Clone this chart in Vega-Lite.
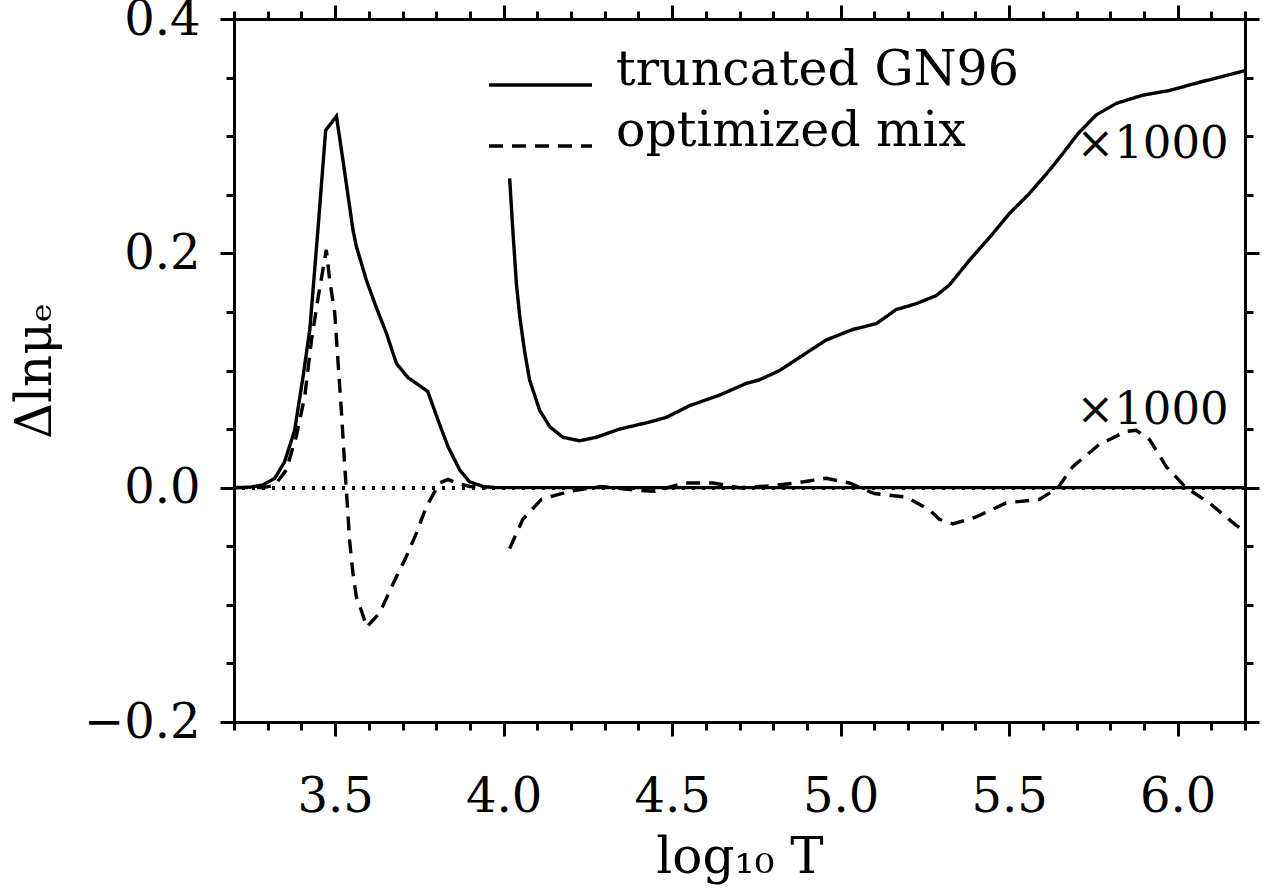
{
  "$schema": "https://vega.github.io/schema/vega-lite/v6.json",
  "width": 1011,
  "height": 703,
  "autosize": {"type": "none"},
  "padding": {"left": 234, "top": 19, "right": 22, "bottom": 170},
  "background": "white",
  "config": {
    "view": {"stroke": null},
    "axis": {
      "grid": false,
      "domainColor": "black",
      "domainWidth": 3,
      "domainCap": "square",
      "tickColor": "black",
      "tickWidth": 3,
      "labelFont": "DejaVu Serif",
      "labelFontSize": 48,
      "labelColor": "black",
      "labelFlush": false,
      "labelOverlap": false,
      "titleFont": "DejaVu Serif",
      "titleFontSize": 48,
      "titleColor": "black",
      "titleFontWeight": "normal"
    }
  },
  "datasets": {
    "curves": [
      {"T": 3.2, "v": 0, "series": "truncated GN96", "part": "a"},
      {"T": 3.25, "v": 0.0005, "series": "truncated GN96", "part": "a"},
      {"T": 3.286, "v": 0.0023, "series": "truncated GN96", "part": "a"},
      {"T": 3.321, "v": 0.008, "series": "truncated GN96", "part": "a"},
      {"T": 3.35, "v": 0.022, "series": "truncated GN96", "part": "a"},
      {"T": 3.38, "v": 0.049, "series": "truncated GN96", "part": "a"},
      {"T": 3.405, "v": 0.095, "series": "truncated GN96", "part": "a"},
      {"T": 3.425, "v": 0.135, "series": "truncated GN96", "part": "a"},
      {"T": 3.449, "v": 0.22, "series": "truncated GN96", "part": "a"},
      {"T": 3.472, "v": 0.305, "series": "truncated GN96", "part": "a"},
      {"T": 3.504, "v": 0.317, "series": "truncated GN96", "part": "a"},
      {"T": 3.523, "v": 0.28, "series": "truncated GN96", "part": "a"},
      {"T": 3.553, "v": 0.22, "series": "truncated GN96", "part": "a"},
      {"T": 3.563, "v": 0.206, "series": "truncated GN96", "part": "a"},
      {"T": 3.593, "v": 0.177, "series": "truncated GN96", "part": "a"},
      {"T": 3.622, "v": 0.154, "series": "truncated GN96", "part": "a"},
      {"T": 3.652, "v": 0.132, "series": "truncated GN96", "part": "a"},
      {"T": 3.682, "v": 0.106, "series": "truncated GN96", "part": "a"},
      {"T": 3.716, "v": 0.094, "series": "truncated GN96", "part": "a"},
      {"T": 3.746, "v": 0.088, "series": "truncated GN96", "part": "a"},
      {"T": 3.775, "v": 0.082, "series": "truncated GN96", "part": "a"},
      {"T": 3.805, "v": 0.058, "series": "truncated GN96", "part": "a"},
      {"T": 3.835, "v": 0.035, "series": "truncated GN96", "part": "a"},
      {"T": 3.87, "v": 0.015, "series": "truncated GN96", "part": "a"},
      {"T": 3.899, "v": 0.005, "series": "truncated GN96", "part": "a"},
      {"T": 3.939, "v": 0.001, "series": "truncated GN96", "part": "a"},
      {"T": 3.978, "v": 0, "series": "truncated GN96", "part": "a"},
      {"T": 6.2, "v": 0, "series": "truncated GN96", "part": "a"},

      {"T": 3.2, "v": 0, "series": "optimized mix", "part": "a"},
      {"T": 3.286, "v": 0, "series": "optimized mix", "part": "a"},
      {"T": 3.321, "v": 0.002, "series": "optimized mix", "part": "a"},
      {"T": 3.355, "v": 0.015, "series": "optimized mix", "part": "a"},
      {"T": 3.385, "v": 0.044, "series": "optimized mix", "part": "a"},
      {"T": 3.41, "v": 0.078, "series": "optimized mix", "part": "a"},
      {"T": 3.43, "v": 0.126, "series": "optimized mix", "part": "a"},
      {"T": 3.45, "v": 0.163, "series": "optimized mix", "part": "a"},
      {"T": 3.474, "v": 0.203, "series": "optimized mix", "part": "a"},
      {"T": 3.484, "v": 0.177, "series": "optimized mix", "part": "a"},
      {"T": 3.499, "v": 0.149, "series": "optimized mix", "part": "a"},
      {"T": 3.509, "v": 0.106, "series": "optimized mix", "part": "a"},
      {"T": 3.519, "v": 0.064, "series": "optimized mix", "part": "a"},
      {"T": 3.528, "v": 0.021, "series": "optimized mix", "part": "a"},
      {"T": 3.538, "v": -0.022, "series": "optimized mix", "part": "a"},
      {"T": 3.543, "v": -0.045, "series": "optimized mix", "part": "a"},
      {"T": 3.553, "v": -0.073, "series": "optimized mix", "part": "a"},
      {"T": 3.563, "v": -0.093, "series": "optimized mix", "part": "a"},
      {"T": 3.578, "v": -0.105, "series": "optimized mix", "part": "a"},
      {"T": 3.594, "v": -0.119, "series": "optimized mix", "part": "a"},
      {"T": 3.632, "v": -0.107, "series": "optimized mix", "part": "a"},
      {"T": 3.677, "v": -0.079, "series": "optimized mix", "part": "a"},
      {"T": 3.711, "v": -0.059, "series": "optimized mix", "part": "a"},
      {"T": 3.741, "v": -0.039, "series": "optimized mix", "part": "a"},
      {"T": 3.771, "v": -0.016, "series": "optimized mix", "part": "a"},
      {"T": 3.81, "v": 0.004, "series": "optimized mix", "part": "a"},
      {"T": 3.835, "v": 0.007, "series": "optimized mix", "part": "a"},
      {"T": 3.86, "v": 0.004, "series": "optimized mix", "part": "a"},
      {"T": 3.9, "v": 0.001, "series": "optimized mix", "part": "a"},
      {"T": 3.95, "v": 0, "series": "optimized mix", "part": "a"},

      {"T": 4.018, "v": 0.264, "series": "truncated GN96", "part": "b"},
      {"T": 4.028, "v": 0.217, "series": "truncated GN96", "part": "b"},
      {"T": 4.038, "v": 0.174, "series": "truncated GN96", "part": "b"},
      {"T": 4.048, "v": 0.146, "series": "truncated GN96", "part": "b"},
      {"T": 4.062, "v": 0.117, "series": "truncated GN96", "part": "b"},
      {"T": 4.077, "v": 0.092, "series": "truncated GN96", "part": "b"},
      {"T": 4.107, "v": 0.066, "series": "truncated GN96", "part": "b"},
      {"T": 4.137, "v": 0.052, "series": "truncated GN96", "part": "b"},
      {"T": 4.176, "v": 0.043, "series": "truncated GN96", "part": "b"},
      {"T": 4.226, "v": 0.04, "series": "truncated GN96", "part": "b"},
      {"T": 4.275, "v": 0.043, "series": "truncated GN96", "part": "b"},
      {"T": 4.344, "v": 0.05, "series": "truncated GN96", "part": "b"},
      {"T": 4.433, "v": 0.056, "series": "truncated GN96", "part": "b"},
      {"T": 4.483, "v": 0.06, "series": "truncated GN96", "part": "b"},
      {"T": 4.552, "v": 0.07, "series": "truncated GN96", "part": "b"},
      {"T": 4.641, "v": 0.079, "series": "truncated GN96", "part": "b"},
      {"T": 4.72, "v": 0.089, "series": "truncated GN96", "part": "b"},
      {"T": 4.759, "v": 0.092, "series": "truncated GN96", "part": "b"},
      {"T": 4.819, "v": 0.1, "series": "truncated GN96", "part": "b"},
      {"T": 4.888, "v": 0.113, "series": "truncated GN96", "part": "b"},
      {"T": 4.957, "v": 0.126, "series": "truncated GN96", "part": "b"},
      {"T": 5.036, "v": 0.135, "series": "truncated GN96", "part": "b"},
      {"T": 5.106, "v": 0.14, "series": "truncated GN96", "part": "b"},
      {"T": 5.165, "v": 0.152, "series": "truncated GN96", "part": "b"},
      {"T": 5.224, "v": 0.157, "series": "truncated GN96", "part": "b"},
      {"T": 5.284, "v": 0.164, "series": "truncated GN96", "part": "b"},
      {"T": 5.323, "v": 0.173, "series": "truncated GN96", "part": "b"},
      {"T": 5.382, "v": 0.194, "series": "truncated GN96", "part": "b"},
      {"T": 5.452, "v": 0.217, "series": "truncated GN96", "part": "b"},
      {"T": 5.501, "v": 0.234, "series": "truncated GN96", "part": "b"},
      {"T": 5.56, "v": 0.251, "series": "truncated GN96", "part": "b"},
      {"T": 5.62, "v": 0.271, "series": "truncated GN96", "part": "b"},
      {"T": 5.659, "v": 0.285, "series": "truncated GN96", "part": "b"},
      {"T": 5.704, "v": 0.302, "series": "truncated GN96", "part": "b"},
      {"T": 5.758, "v": 0.318, "series": "truncated GN96", "part": "b"},
      {"T": 5.818, "v": 0.328, "series": "truncated GN96", "part": "b"},
      {"T": 5.897, "v": 0.335, "series": "truncated GN96", "part": "b"},
      {"T": 5.976, "v": 0.339, "series": "truncated GN96", "part": "b"},
      {"T": 6.065, "v": 0.346, "series": "truncated GN96", "part": "b"},
      {"T": 6.2, "v": 0.356, "series": "truncated GN96", "part": "b"},

      {"T": 4.018, "v": -0.052, "series": "optimized mix", "part": "b"},
      {"T": 4.057, "v": -0.027, "series": "optimized mix", "part": "b"},
      {"T": 4.112, "v": -0.01, "series": "optimized mix", "part": "b"},
      {"T": 4.196, "v": -0.003, "series": "optimized mix", "part": "b"},
      {"T": 4.29, "v": 0.001, "series": "optimized mix", "part": "b"},
      {"T": 4.384, "v": -0.002, "series": "optimized mix", "part": "b"},
      {"T": 4.45, "v": -0.003, "series": "optimized mix", "part": "b"},
      {"T": 4.537, "v": 0.004, "series": "optimized mix", "part": "b"},
      {"T": 4.621, "v": 0.004, "series": "optimized mix", "part": "b"},
      {"T": 4.7, "v": 0.0, "series": "optimized mix", "part": "b"},
      {"T": 4.789, "v": 0.0015, "series": "optimized mix", "part": "b"},
      {"T": 4.868, "v": 0.004, "series": "optimized mix", "part": "b"},
      {"T": 4.957, "v": 0.008, "series": "optimized mix", "part": "b"},
      {"T": 5.026, "v": 0.004, "series": "optimized mix", "part": "b"},
      {"T": 5.1, "v": -0.005, "series": "optimized mix", "part": "b"},
      {"T": 5.195, "v": -0.008, "series": "optimized mix", "part": "b"},
      {"T": 5.264, "v": -0.019, "series": "optimized mix", "part": "b"},
      {"T": 5.293, "v": -0.027, "series": "optimized mix", "part": "b"},
      {"T": 5.333, "v": -0.031, "series": "optimized mix", "part": "b"},
      {"T": 5.402, "v": -0.025, "series": "optimized mix", "part": "b"},
      {"T": 5.491, "v": -0.013, "series": "optimized mix", "part": "b"},
      {"T": 5.59, "v": -0.01, "series": "optimized mix", "part": "b"},
      {"T": 5.645, "v": 0, "series": "optimized mix", "part": "b"},
      {"T": 5.689, "v": 0.018, "series": "optimized mix", "part": "b"},
      {"T": 5.768, "v": 0.037, "series": "optimized mix", "part": "b"},
      {"T": 5.847, "v": 0.048, "series": "optimized mix", "part": "b"},
      {"T": 5.877, "v": 0.049, "series": "optimized mix", "part": "b"},
      {"T": 5.917, "v": 0.041, "series": "optimized mix", "part": "b"},
      {"T": 5.966, "v": 0.018, "series": "optimized mix", "part": "b"},
      {"T": 6.025, "v": 0, "series": "optimized mix", "part": "b"},
      {"T": 6.094, "v": -0.013, "series": "optimized mix", "part": "b"},
      {"T": 6.173, "v": -0.032, "series": "optimized mix", "part": "b"},
      {"T": 6.2, "v": -0.037, "series": "optimized mix", "part": "b"}
    ],
    "notes": [
      {"T": 5.7, "v": 0.281, "label": "×1000"},
      {"T": 5.7, "v": 0.054, "label": "×1000"}
    ]
  },
  "data": {"name": "curves"},
  "layer": [
    {
      "mark": {"type": "rule", "strokeDash": [3, 7], "strokeWidth": 3, "color": "black"},
      "encoding": {
        "y": {"datum": 0, "type": "quantitative", "axis": null}
      }
    },
    {
      "mark": {"type": "line", "strokeWidth": 3.4, "color": "black", "clip": true},
      "encoding": {
        "x": {
          "field": "T", "type": "quantitative",
          "scale": {"domain": [3.2, 6.2], "nice": false, "zero": false},
          "axis": {"orient": "bottom", "values": [3.5, 4, 4.5, 5, 5.5, 6], "format": ".1f", "tickSize": 14, "labelPadding": 37, "title": "log₁₀ T", "titleFontSize": 50, "titleBaseline": "alphabetic", "titleY": 150}
        },
        "y": {
          "field": "v", "type": "quantitative",
          "scale": {"domain": [-0.2, 0.4], "nice": false, "zero": false},
          "axis": {"orient": "left", "values": [-0.2, 0, 0.2, 0.4], "format": ".1f", "tickSize": 14, "labelPadding": 20, "labelOffset": 1, "title": "Δlnμₑ", "titleFontSize": 50, "titleBaseline": "alphabetic", "titleAngle": -90, "titleX": -184, "titleY": 351.5}
        },
        "strokeDash": {
          "field": "series", "type": "nominal",
          "scale": {"domain": ["truncated GN96", "optimized mix"], "range": [[1, 0], [14, 9]]},
          "legend": {
            "orient": "none", "legendX": 253, "legendY": 44.5, "title": null,
            "symbolType": "stroke", "symbolSize": 10609, "symbolStrokeWidth": 3.4, "symbolStrokeColor": "black",
            "clipHeight": 43, "rowPadding": 0, "padding": 0,
            "labelFont": "DejaVu Serif", "labelFontSize": 49, "labelColor": "black", "labelOffset": 22, "labelBaseline": "alphabetic", "labelLimit": 0
          }
        },
        "detail": {"field": "part", "type": "nominal"}
      }
    },
    {
      "mark": {"type": "line", "strokeOpacity": 0},
      "encoding": {
        "x": {"field": "T", "type": "quantitative", "axis": {"orient": "bottom", "values": [3.2, 3.3, 3.4, 3.5, 3.6, 3.7, 3.8, 3.9, 4.0, 4.1, 4.2, 4.3, 4.4, 4.5, 4.6, 4.7, 4.8, 4.9, 5.0, 5.1, 5.2, 5.3, 5.4, 5.5, 5.6, 5.7, 5.8, 5.9, 6.0, 6.1, 6.2], "tickSize": 8, "labels": false, "title": null}},
        "y": {"field": "v", "type": "quantitative", "axis": {"orient": "left", "values": [-0.2, -0.15, -0.1, -0.05, 0, 0.05, 0.1, 0.15, 0.2, 0.25, 0.3, 0.35, 0.4], "tickSize": 8, "labels": false, "title": null}},
        "detail": {"field": "part", "type": "nominal"}
      }
    },
    {
      "mark": {"type": "line", "strokeOpacity": 0},
      "encoding": {
        "x": {"field": "T", "type": "quantitative", "axis": {"orient": "top", "values": [3.5, 4, 4.5, 5, 5.5, 6], "tickSize": 14, "labels": false, "title": null}},
        "y": {"field": "v", "type": "quantitative", "axis": {"orient": "right", "values": [-0.2, 0, 0.2, 0.4], "tickSize": 14, "labels": false, "title": null}},
        "detail": {"field": "part", "type": "nominal"}
      }
    },
    {
      "mark": {"type": "line", "strokeOpacity": 0},
      "encoding": {
        "x": {"field": "T", "type": "quantitative", "axis": {"orient": "top", "values": [3.2, 3.3, 3.4, 3.5, 3.6, 3.7, 3.8, 3.9, 4.0, 4.1, 4.2, 4.3, 4.4, 4.5, 4.6, 4.7, 4.8, 4.9, 5.0, 5.1, 5.2, 5.3, 5.4, 5.5, 5.6, 5.7, 5.8, 5.9, 6.0, 6.1, 6.2], "tickSize": 8, "labels": false, "title": null}},
        "y": {"field": "v", "type": "quantitative", "axis": {"orient": "right", "values": [-0.2, -0.15, -0.1, -0.05, 0, 0.05, 0.1, 0.15, 0.2, 0.25, 0.3, 0.35, 0.4], "tickSize": 8, "labels": false, "title": null}},
        "detail": {"field": "part", "type": "nominal"}
      }
    },
    {
      "data": {"name": "notes"},
      "mark": {"type": "text", "align": "left", "baseline": "alphabetic", "fontSize": 45, "font": "DejaVu Serif", "color": "black"},
      "encoding": {
        "x": {"field": "T", "type": "quantitative", "axis": null},
        "y": {"field": "v", "type": "quantitative", "axis": null},
        "text": {"field": "label"}
      }
    }
  ],
  "resolve": {"axis": {"x": "independent", "y": "independent"}}
}
